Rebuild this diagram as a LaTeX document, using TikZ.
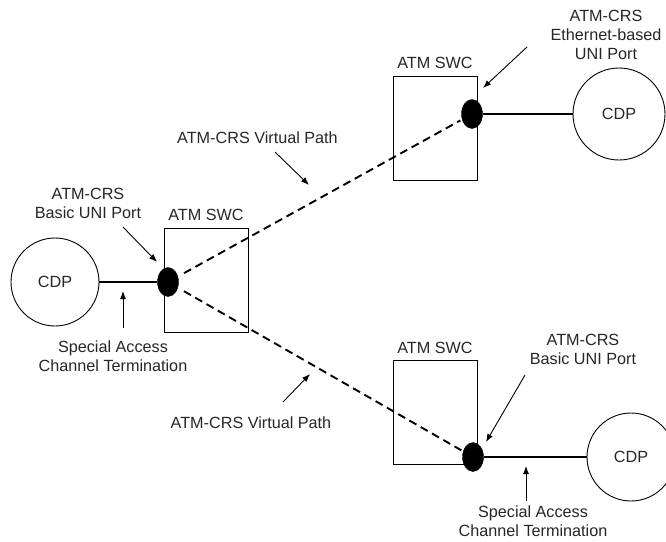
\documentclass[tikz,border=0pt]{standalone}
\usepackage{fontspec}
\setmainfont{Liberation Sans}
\usetikzlibrary{arrows.meta,shapes.geometric}
\begin{document}
\begin{tikzpicture}[x=1pt,y=-1pt,
  lbl/.style={font=\fontsize{16.2}{19}\selectfont, align=center, inner sep=0pt, text=black!85},
  swc/.style={draw, line width=1pt, minimum width=84pt, minimum height=104pt, inner sep=0pt},
  cdp/.style={draw, circle, line width=0.9pt, minimum size=88pt, inner sep=0pt, font=\fontsize{16.2}{19}\selectfont, text=black!85},
  port/.style={draw, fill=black, ellipse, minimum width=21pt, minimum height=29pt, inner sep=0pt},
  link/.style={line width=2.6pt},
  vpath/.style={line width=1.9pt, dash pattern=on 8pt off 5pt, shorten <=7pt, shorten >=2pt},
  ptr/.style={line width=0.9pt, -{Latex[length=8pt,width=6pt]}}
]
\useasboundingbox (0,0) rectangle (666,541);
% switches
\node[swc] (swL) at (206,280) {};
\node[swc] (swT) at (435,128) {};
\node[swc] (swB) at (435,412.5) {};
\node[lbl] (swLt) at (206,215) {ATM SWC};
\node[lbl] (swTt) at (435,63) {ATM SWC};
\node[lbl] (swBt) at (435,348) {ATM SWC};
% CDPs
\node[cdp] (cdpL) at (55,282) {CDP};
\node[cdp, minimum size=92pt] (cdpT) at (619,114) {CDP};
\node[cdp] (cdpB) at (631,457) {CDP};
% ports
\node[port] (pL) at (168,282) {};
\node[port] (pT) at (472,114) {};
\node[port] (pB) at (473,457) {};
% links
\draw[link] (cdpL) -- (pL);
\draw[link] (pT) -- (cdpT);
\draw[link] (pB) -- (cdpB);
\draw[vpath] (pL) -- (pT);
\draw[vpath] (pL) -- (pB);
% labels
\node[lbl] (uL) at (88,203.5) {ATM-CRS\\Basic UNI Port};
\node[lbl] (uT) at (606,35) {ATM-CRS\\Ethernet-based\\UNI Port};
\node[lbl] (uB) at (583,349.5) {ATM-CRS\\Basic UNI Port};
\node[lbl] (sL) at (113,356) {Special Access\\Channel Termination};
\node[lbl] (sB) at (533,521) {Special Access\\Channel Termination};
\node[lbl] (vT) at (257.5,138) {ATM-CRS Virtual Path};
\node[lbl] (vB) at (251,423) {ATM-CRS Virtual Path};
% pointer coordinates
\coordinate (a1s) at (123,227); \coordinate (a1e) at (157,262);
\coordinate (a2s) at (123,328); \coordinate (a2e) at (123,291);
\coordinate (a3s) at (275,152); \coordinate (a3e) at (309,185);
\coordinate (a4s) at (283,402); \coordinate (a4e) at (310,374);
\coordinate (a5s) at (527,47);  \coordinate (a5e) at (483,88);
\coordinate (a6s) at (525,375); \coordinate (a6e) at (486,442);
\coordinate (a7s) at (526,501); \coordinate (a7e) at (526,466);
\draw[ptr] (a1s) -- (a1e);
\draw[ptr] (a2s) -- (a2e);
\draw[ptr] (a3s) -- (a3e);
\draw[ptr] (a4s) -- (a4e);
\draw[ptr] (a5s) -- (a5e);
\draw[ptr] (a6s) -- (a6e);
\draw[ptr] (a7s) -- (a7e);
\end{tikzpicture}
\end{document}
